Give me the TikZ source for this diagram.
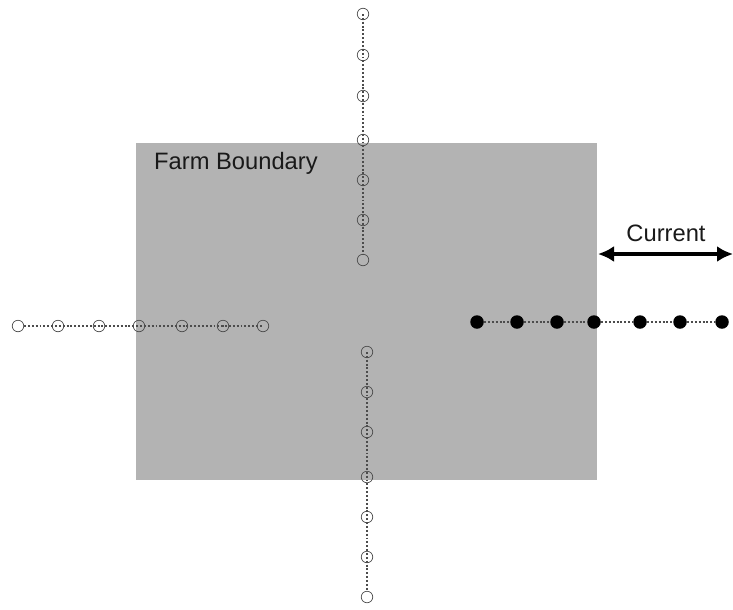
\documentclass[tikz,border=0pt]{standalone}
\usepackage{fontspec}
\setmainfont{Liberation Sans}
\usetikzlibrary{arrows.meta}
\definecolor{farmgray}{HTML}{B3B3B3}
\begin{document}
\begin{tikzpicture}[x=0.02cm,y=-0.02cm,
    open node/.style={circle,draw=black!70,line width=0.4pt,fill=none,inner sep=0pt,minimum size=0.23cm},
    full node/.style={circle,fill=black,inner sep=0pt,minimum size=0.27cm},
    dotline/.style={draw=black!70,line width=0.8pt,dash pattern=on 1.1pt off 1.1pt},
    label text/.style={font=\fontsize{13.5}{16}\selectfont,text=black!90}]

    \useasboundingbox (0,0) rectangle (733,609);
    \fill[farmgray] (136,143) rectangle (597,480);
    \node[label text,anchor=west] at (148,163) (farm) {Farm Boundary};

    % top line
    \node[open node] at (363,14) (t1) {};
    \node[open node] at (363,55) (t2) {};
    \node[open node] at (363,96) (t3) {};
    \node[open node] at (363,140) (t4) {};
    \node[open node] at (363,180) (t5) {};
    \node[open node] at (363,220) (t6) {};
    \node[open node] at (363,260) (t7) {};
    \draw[dotline] (t1.center) -- (t2.center) -- (t3.center) -- (t4.center) -- (t5.center) -- (t6.center) -- (t7.north);

    % left line
    \node[open node] at (18,326) (l1) {};
    \node[open node] at (58,326) (l2) {};
    \node[open node] at (99,326) (l3) {};
    \node[open node] at (139,326) (l4) {};
    \node[open node] at (182,326) (l5) {};
    \node[open node] at (223,326) (l6) {};
    \node[open node] at (263,326) (l7) {};
    \draw[dotline] (l1.east) -- (l2.center) -- (l3.center) -- (l4.center) -- (l5.center) -- (l6.center) -- (l7.center);

    % bottom line
    \node[open node] at (367,352) (b1) {};
    \node[open node] at (367,392) (b2) {};
    \node[open node] at (367,432) (b3) {};
    \node[open node] at (367,477) (b4) {};
    \node[open node] at (367,517) (b5) {};
    \node[open node] at (367,557) (b6) {};
    \node[open node] at (367,597) (b7) {};
    \draw[dotline] (b1.center) -- (b2.center) -- (b3.center) -- (b4.center) -- (b5.center) -- (b6.center) -- (b7.north);

    % right line
    \node[full node] at (477,322) (r1) {};
    \node[full node] at (517,322) (r2) {};
    \node[full node] at (557,322) (r3) {};
    \node[full node] at (594,322) (r4) {};
    \node[full node] at (640,322) (r5) {};
    \node[full node] at (680,322) (r6) {};
    \node[full node] at (722,322) (r7) {};
    \draw[dotline] (r1) -- (r2) -- (r3) -- (r4) -- (r5) -- (r6) -- (r7);

    % current
    \coordinate (cl) at (598,254);
    \coordinate (cr) at (733,254);
    \draw[line width=1.8pt,{Latex[length=0.32cm,width=0.32cm]}-{Latex[length=0.32cm,width=0.32cm]}] (cl) -- (cr);
    \node[label text] at (666,233) (current) {Current};
\end{tikzpicture}
\end{document}
